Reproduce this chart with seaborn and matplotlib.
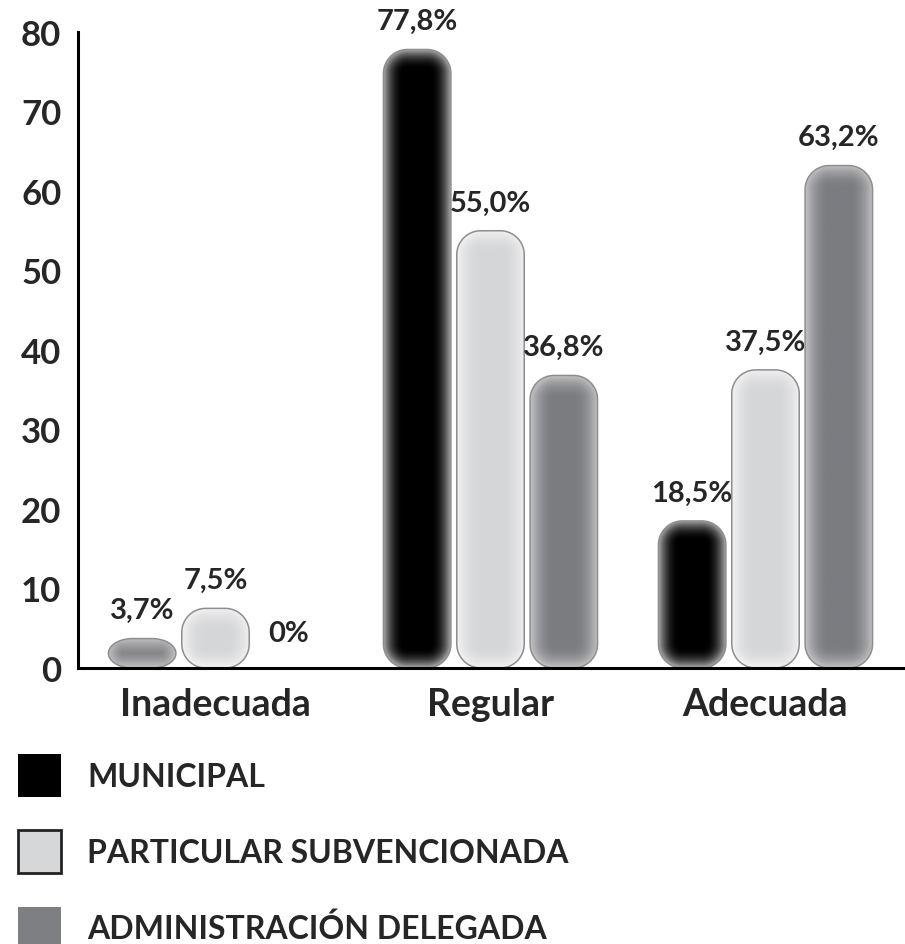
import numpy as np
import pandas as pd
import matplotlib
matplotlib.use("Agg")
import matplotlib.pyplot as plt
import seaborn as sns
from matplotlib.patches import Patch, PathPatch
from matplotlib.path import Path

# ---------------------------------------------------------------------------
# Data
# ---------------------------------------------------------------------------
categorias = ["Inadecuada", "Regular", "Adecuada"]
dependencias = ["MUNICIPAL", "PARTICULAR SUBVENCIONADA", "ADMINISTRACIÓN DELEGADA"]
municipal = [3.7, 77.8, 18.5]
particular = [7.5, 55.0, 37.5]
delegada = [0.0, 36.8, 63.2]

df = pd.DataFrame({
    "categoria": categorias * 3,
    "dependencia": np.repeat(dependencias, 3),
    "valor": municipal + particular + delegada,
})

# edge colour, centre colour, fade width (px) of each series' gradient
estilos = {
    "MUNICIPAL": ("#b4b4b4", "#000000", 20),
    "PARTICULAR SUBVENCIONADA": ("#f3f3f4", "#d5d6d8", 24),
    "ADMINISTRACIÓN DELEGADA": ("#c6c6c8", "#7b7c80", 24),
}
# the source chart paints the Inadecuada/municipal bar in the grey style
estilo_forzado = {("Inadecuada", "MUNICIPAL"): "ADMINISTRACIÓN DELEGADA"}

W, H = 905, 945
sns.set_style("white")
plt.rcParams["font.family"] = ["Lato", "DejaVu Sans"]
plt.rcParams["font.weight"] = "bold"

fig = plt.figure(figsize=(W / 100, H / 100), dpi=100)
ax = fig.add_axes([78 / W, 1 - 669 / H, 825 / W, 636 / H])

sns.barplot(data=df, x="categoria", y="valor", hue="dependencia",
            order=categorias, hue_order=dependencias,
            palette=["#000000", "#d6d7d9", "#7c7d81"],
            gap=0.08, legend=False, ax=ax)

ax.set_xlim(-0.5, 2.5)
ax.set_ylim(0, 80)
px_x = 825 / 3.0
px_y = 636 / 80.0


def contorno(x0, w, h, rx, ry, n=18):
    pts = []
    esquinas = [(x0 + w - rx, h - ry, 0), (x0 + rx, h - ry, 90),
                (x0 + rx, ry, 180), (x0 + w - rx, ry, 270)]
    for cx, cy, a0 in esquinas:
        ang = np.radians(np.linspace(a0, a0 + 90, n))
        pts += list(zip(cx + rx * np.cos(ang), cy + ry * np.sin(ang)))
    pts.append(pts[0])
    return Path(pts, closed=True)


def degradado(w_px, h_px, r, borde, centro, caida):
    nx, ny = int(w_px * 2), int(h_px * 2)
    xs = (np.arange(nx) + 0.5) / 2 - w_px / 2
    ys = (np.arange(ny) + 0.5) / 2 - h_px / 2
    X, Y = np.meshgrid(xs, ys)
    qx = np.abs(X) - (w_px / 2 - r)
    qy = np.abs(Y) - (h_px / 2 - r)
    fuera = np.hypot(np.maximum(qx, 0), np.maximum(qy, 0))
    dentro = np.minimum(np.maximum(qx, qy), 0)
    prof = -(fuera + dentro - r)
    t = np.clip(prof / caida, 0, 1)
    t = t * (2 - t)
    b = np.array(matplotlib.colors.to_rgb(borde))
    c = np.array(matplotlib.colors.to_rgb(centro))
    return b + (c - b) * t[..., None]


R = 24
for dep, cont in zip(dependencias, ax.containers):
    for cat, bar in zip(categorias, cont):
        bar.set_visible(False)
        x0, w, h = bar.get_x(), bar.get_width(), bar.get_height()
        etiqueta = "0%" if h == 0 else f"{h:.1f}%".replace(".", ",")
        ax.annotate(etiqueta, (x0 + w / 2, h), xytext=(0, 11 if h else 16),
                    textcoords="offset points", ha="center", va="bottom",
                    fontsize=21, fontweight="bold")
        if h == 0:
            continue
        w_px, h_px = w * px_x, h * px_y
        rx = min(R, w_px / 2) / px_x
        ry = min(R, h_px / 2) / px_y
        borde, centro, caida = estilos[estilo_forzado.get((cat, dep), dep)]
        forma = PathPatch(contorno(x0, w, h, rx, ry), transform=ax.transData,
                          facecolor="none", edgecolor="none")
        img = degradado(w_px, h_px, min(R, w_px / 2, h_px / 2), borde, centro, caida)
        im = ax.imshow(img, extent=(x0, x0 + w, 0, h), origin="lower",
                       aspect="auto", interpolation="bilinear", zorder=2)
        im.set_clip_path(forma)
        ax.add_patch(PathPatch(contorno(x0, w, h, rx, ry), facecolor="none",
                               edgecolor="#8e8e8e", lw=1.1, zorder=3))

ax.set_xlim(-0.5, 2.5)
ax.set_ylim(0, 80)

# axes styling
for lado in ["top", "right"]:
    ax.spines[lado].set_visible(False)
for lado in ["left", "bottom"]:
    ax.spines[lado].set_linewidth(2.2)
    ax.spines[lado].set_color("black")
    ax.spines[lado].set_zorder(5)

ax.set_yticks(range(0, 81, 10))
ax.tick_params(axis="y", direction="in", length=15, width=2.2, pad=12,
               labelsize=25, color="black")
ax.set_xticks(range(len(categorias)))
ax.set_xticklabels(categorias)
ax.set_xticks([0.5, 1.5, 2.5], minor=True)
ax.tick_params(axis="x", which="major", length=0, pad=14, labelsize=27)
ax.tick_params(axis="x", which="minor", direction="in", length=11, width=2.2)
for t in ax.get_xticklabels() + ax.get_yticklabels():
    t.set_fontweight("bold")
ax.set_xlabel("")
ax.set_ylabel("")

# legend below the chart
manejadores = [
    Patch(facecolor="#000000", edgecolor="none", label=dependencias[0]),
    Patch(facecolor="#d6d7d9", edgecolor="#222222", linewidth=2, label=dependencias[1]),
    Patch(facecolor="#7e7f83", edgecolor="none", label=dependencias[2]),
]
fig.legend(handles=manejadores, loc="upper left",
           bbox_to_anchor=(18 / W, 1 - 755 / H), frameon=False,
           prop={"size": 23, "weight": "bold"}, handlelength=1.34,
           handleheight=1.68, handletextpad=0.82, labelspacing=1.05,
           borderpad=0, borderaxespad=0)

fig.savefig("out.png", dpi=100)
